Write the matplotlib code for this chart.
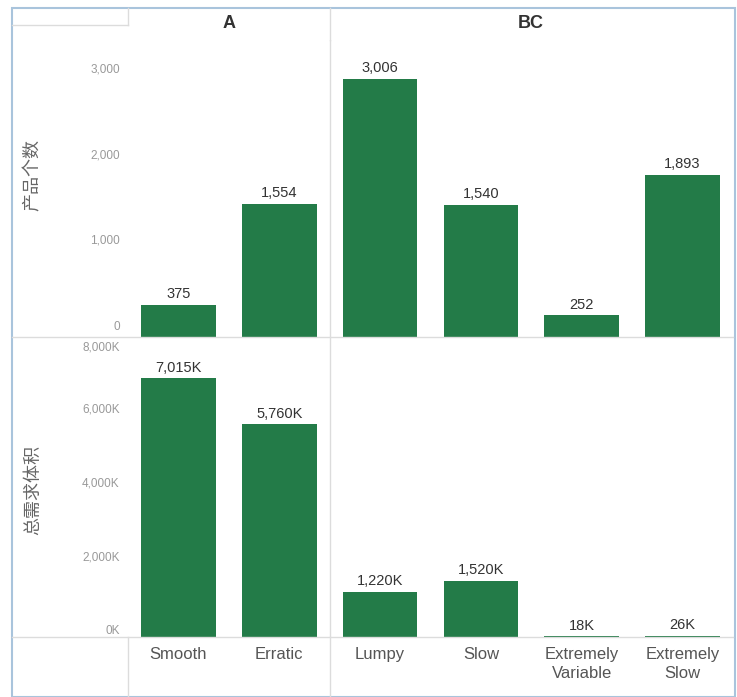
import matplotlib.pyplot as plt
from matplotlib.lines import Line2D
from matplotlib.patches import Rectangle
from matplotlib.transforms import ScaledTranslation

plt.rcParams['font.family'] = ['Arial', 'Liberation Sans', 'DejaVu Sans']

# data
groups = ['A', 'BC']
patterns = ['Smooth', 'Erratic', 'Lumpy', 'Slow', 'Extremely\nVariable', 'Extremely\nSlow']
product_count = [375, 1554, 3006, 1540, 252, 1893]
demand_volume_k = [7015, 5760, 1220, 1520, 18, 26]
count_ticks = [0, 1000, 2000, 3000]
volume_ticks = [0, 2000, 4000, 6000, 8000]

bar_color = '#237b48'
line_color = '#dcdcdc'
W, H = 737, 697

fig = plt.figure(figsize=(W / 100, H / 100), dpi=100)
fig.patch.set_facecolor('white')


def fx(px):
    return px / W


def fy(py):
    return 1 - py / H


left, right = 128, 733
ax_top = fig.add_axes([fx(left), fy(337), fx(right - left), fy(40) - fy(337)])
ax_bot = fig.add_axes([fx(left), fy(637), fx(right - left), fy(337) - fy(637)])

x = list(range(len(patterns)))

for ax, vals, ticks, fmt, ymax in [
        (ax_top, product_count, count_ticks, '{:,}', 3460),
        (ax_bot, demand_volume_k, volume_ticks, '{:,}K', 8130)]:
    bars = ax.bar(x, vals, width=0.74, color=bar_color, zorder=3)
    for b, v in zip(bars, vals):
        ax.text(b.get_x() + b.get_width() / 2, v + ymax * 0.012, fmt.format(v),
                ha='center', va='bottom', fontsize=10.5, color='#333333')
    ax.set_xlim(-0.5, len(patterns) - 0.5)
    ax.set_ylim(0, ymax)
    ax.set_yticks(ticks)
    ax.set_yticklabels([fmt.format(t) for t in ticks], fontsize=8.5, color='#999999')
    ax.tick_params(axis='y', length=0, pad=6)
    ax.axvline(1.5, color=line_color, lw=1, zorder=1)
    for s in ax.spines.values():
        s.set_visible(False)
    ax.set_facecolor('none')

# lift the count labels a little so the "0" clears the panel divider
for lab in ax_top.get_yticklabels():
    lab.set_va('bottom')
    lab.set_transform(lab.get_transform() + ScaledTranslation(0, 3 / 72, fig.dpi_scale_trans))
for lab in ax_bot.get_yticklabels()[:-1]:
    lab.set_va('bottom')
ax_bot.get_yticklabels()[-1].set_va('top')

ax_top.set_xticks([])
ax_bot.set_xticks(x)
ax_bot.set_xticklabels(patterns, fontsize=12, color='#555555', linespacing=1.35)
ax_bot.tick_params(axis='x', length=0, pad=7)

# panel frame and dividers
fig.add_artist(Rectangle((fx(12), 0), fx(735) - fx(12), fy(8), transform=fig.transFigure,
                         fill=False, edgecolor='#a9c4dc', lw=1.5))
for y in (337, 637):
    fig.add_artist(Line2D([fx(12), fx(733)], [fy(y), fy(y)], color=line_color, lw=1))
fig.add_artist(Line2D([fx(330), fx(330)], [fy(8), fy(40)], color=line_color, lw=1))
fig.add_artist(Line2D([fx(330), fx(330)], [fy(637), 0], color=line_color, lw=1))
fig.add_artist(Line2D([fx(128), fx(128)], [fy(637), 0], color=line_color, lw=1))
fig.add_artist(Line2D([fx(128), fx(128)], [fy(8), fy(25)], color=line_color, lw=1))
fig.add_artist(Line2D([fx(12), fx(128)], [fy(25), fy(25)], color=line_color, lw=1))

# column headers
fig.text(fx(229), fy(24), groups[0], ha='center', va='center', fontsize=13,
         fontweight='bold', color='#333333')
fig.text(fx(531), fy(24), groups[1], ha='center', va='center', fontsize=13,
         fontweight='bold', color='#333333')

# row titles
cjk = ['Noto Sans CJK SC', 'DejaVu Sans']
fig.text(fx(33), fy(175), '产品个数', rotation=90, ha='center', va='center',
         fontsize=13, color='#666666', family=cjk)
fig.text(fx(33), fy(490), '总需求体积', rotation=90, ha='center', va='center',
         fontsize=13, color='#666666', family=cjk)

fig.savefig('out.png', dpi=100, facecolor='white')
